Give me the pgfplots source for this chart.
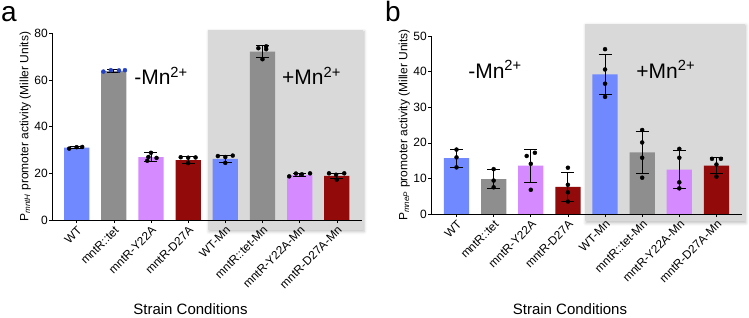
\documentclass[border=0pt]{standalone}
\usepackage{fontspec}
\setmainfont{Liberation Sans}
\usepackage{pgfplots}
\pgfplotsset{compat=1.18}
\usetikzlibrary{shadows.blur}
\definecolor{cblue}{HTML}{7189FF}
\definecolor{cgray}{HTML}{8E8E8E}
\definecolor{cviol}{HTML}{D58BFF}
\definecolor{cred}{HTML}{920A0A}
\definecolor{cshade}{HTML}{D9D9D9}
\definecolor{cdot}{RGB}{35,65,200}
\pgfplotsset{
  panel/.style={
    scale only axis, axis lines=left, axis line style={-, line width=0.8pt},
    axis on top,
    tick align=outside, major tick length=3pt, tick style={black, line width=0.6pt},
    xtick={0,...,7},
    xticklabels={WT,mntR::tet,mntR-Y22A,mntR-D27A,WT-Mn,mntR::tet-Mn,mntR-Y22A-Mn,mntR-D27A-Mn},
    xticklabel style={rotate=45, anchor=north east, font=\fontsize{11.8}{14}\selectfont, inner sep=1.5pt},
    yticklabel style={font=\fontsize{12}{14}\selectfont, inner sep=1pt},
    /pgf/number format/assume math mode=true,
    ymin=0, clip=false,
    ylabel style={font=\fontsize{12}{14}\selectfont, yshift=-1pt},
  },
  barp/.style={ybar, bar width=0.68, fill=#1, draw=none,
    error bars/.cd, y dir=both, y explicit,
    error bar style={black, line width=0.9pt},
    error mark options={black, rotate=90, mark size=6.5pt, line width=0.9pt}},
  dots/.style={only marks, mark=*, mark size=2pt, mark options={fill=#1, draw=#1}},
}
\begin{document}
\begin{tikzpicture}
\useasboundingbox (0,0) rectangle (749pt,317pt);
% ---------- panel a
\begin{axis}[panel, at={(52pt,97pt)}, anchor=south west,
  width=309.7pt, height=186.7pt,
  xmin=-0.663, xmax=7.67, ymax=80, ytick={0,20,40,60,80},
  ylabel={P\textsubscript{\textit{mntH}} promoter activity (Miller Units)}]
\fill[cshade, blur shadow={shadow xshift=1pt, shadow yshift=-1.5pt, shadow blur radius=3pt, shadow opacity=25}]
  (axis cs:3.535,-4.3) rectangle (axis cs:7.706,81.4);
\addplot[barp=cblue] coordinates {(0,31.0) +- (0,0.4) (4,26.2) +- (0,1.5)};
\addplot[barp=cgray] coordinates {(1,63.8) +- (0,0.5) (5,72.2) +- (0,2.6)};
\addplot[barp=cviol] coordinates {(2,26.9) +- (0,2.0) (6,19.2) +- (0,0.7)};
\addplot[barp=cred] coordinates {(3,25.7) +- (0,1.4) (7,18.9) +- (0,1.2)};
\addplot[dots=black] coordinates {
 (-0.2,30.6) (0.0,31.2) (0.15,31.3)
 (1.9,25.4) (1.93,27.0) (2.0,28.8) (2.15,26.6)
 (2.8,26.9) (3.0,26.7) (3.2,26.8) (3.0,24.4)
 (3.8,27.4) (4.0,27.0) (4.2,27.6) (4.0,24.5)
 (4.89,73.6) (5.1,74.4) (5.1,73.2) (5.0,68.9)
 (5.72,18.7) (5.9,19.9) (6.06,19.6) (6.28,20.0)
 (6.79,20.0) (6.98,19.4) (7.2,20.0) (7.0,17.3)};
\addplot[dots=cdot] coordinates {(0.72,63.6) (0.92,64.2) (1.14,64.1) (1.30,64.2)};
\node[anchor=base, font=\fontsize{21}{24}\selectfont] at (axis cs:2.27,57.9) {-Mn\textsuperscript{2+}};
\node[anchor=base, font=\fontsize{21}{24}\selectfont] at (axis cs:6.32,57.9) {+Mn\textsuperscript{2+}};
\end{axis}
% ---------- panel b
\begin{axis}[panel, at={(431pt,103pt)}, anchor=south west,
  width=310.7pt, height=178pt,
  xmin=-0.687, xmax=7.68, ymax=50, ytick={0,10,20,30,40,50},
  ylabel={P\textsubscript{\textit{mneP}} promoter activity (Miller Units)}]
\fill[cshade, blur shadow={shadow xshift=1pt, shadow yshift=-1.5pt, shadow blur radius=3pt, shadow opacity=25}]
  (axis cs:3.46,-2.1) rectangle (axis cs:7.767,53.4);
\addplot[barp=cblue] coordinates {(0,15.7) +- (0,2.5) (4,39.2) +- (0,5.7)};
\addplot[barp=cgray] coordinates {(1,9.8) +- (0,2.6) (5,17.3) +- (0,5.8)};
\addplot[barp=cviol] coordinates {(2,13.6) +- (0,4.6) (6,12.5) +- (0,5.3)};
\addplot[barp=cred] coordinates {(3,7.6) +- (0,4.1) (7,13.6) +- (0,2.3)};
\addplot[dots=black] coordinates {
 (0,18.1) (0,15.9) (0,13.1)
 (1,12.6) (1,9.4) (1,7.5)
 (1.89,16.3) (2.11,17.2) (2.0,14.1) (2.0,6.8)
 (3,13.0) (3,8.2) (3,6.1) (3,3.5)
 (4,46.3) (4,40.6) (4,36.6) (4,32.9)
 (5,23.6) (5,20.1) (5,15.8) (5,10.2)
 (6,18.3) (6,15.8) (6,8.9) (6,7.2)
 (6.88,15.5) (7.12,15.5) (7,13.9) (7,10.5)};
\node[anchor=base, font=\fontsize{21}{24}\selectfont] at (axis cs:1.036,38.1) {-Mn\textsuperscript{2+}};
\node[anchor=base, font=\fontsize{21}{24}\selectfont] at (axis cs:5.635,38.1) {+Mn\textsuperscript{2+}};
\end{axis}
% ---------- titles
\node[anchor=base west, font=\fontsize{28}{30}\selectfont, inner sep=0pt] at (1pt,296pt) {a};
\node[anchor=base west, font=\fontsize{28}{30}\selectfont, inner sep=0pt] at (385pt,296pt) {b};
\node[anchor=base, font=\fontsize{15}{17}\selectfont, inner sep=0pt] at (190.5pt,3pt) {Strain Conditions};
\node[anchor=base, font=\fontsize{15}{17}\selectfont, inner sep=0pt] at (570pt,3pt) {Strain Conditions};
\end{tikzpicture}
\end{document}
